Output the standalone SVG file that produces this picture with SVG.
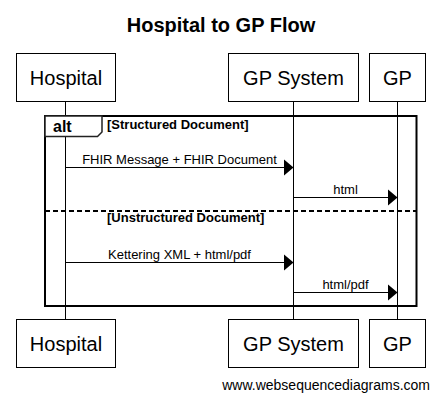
<svg xmlns="http://www.w3.org/2000/svg" width="441" height="402" viewBox="0 0 441 402">
<style>
.bg{fill:#fff}
.box{fill:#fff;stroke:#000;stroke-width:1}
.pt{font-family:"Liberation Sans",Arial,sans-serif;font-size:20px;fill:#000;text-anchor:middle}
.life{stroke:#000;stroke-width:1;fill:none}
.msg{stroke:#000;stroke-width:1;fill:none}
.head{fill:#000}
.ml{font-family:"Liberation Sans",Arial,sans-serif;font-size:13px;fill:#000;text-anchor:middle}
.frame{fill:none;stroke:#000;stroke-width:2}
.sep{fill:none;stroke:#000;stroke-width:2;stroke-dasharray:5,3}
.tab{fill:#fff;stroke:#222;stroke-width:1.5}
.cond{font-family:"Liberation Sans",Arial,sans-serif;font-size:13px;font-weight:bold;fill:#000}
.kw{font-family:"Liberation Sans",Arial,sans-serif;font-size:16px;font-weight:bold;fill:#000}
</style>
<rect class="bg" x="0" y="0" width="441" height="402"/>
<text x="221" y="32" font-family="'Liberation Sans',Arial,sans-serif" font-size="20" font-weight="bold" text-anchor="middle">Hospital to GP Flow</text>
<g id="lifelines">
<line class="life" x1="65.5" y1="101" x2="65.5" y2="320"/>
<line class="life" x1="293.5" y1="101" x2="293.5" y2="320"/>
<line class="life" x1="397.5" y1="101" x2="397.5" y2="320"/>
</g>
<g id="alt-frame">
<rect class="frame" x="45" y="116" width="371.5" height="190"/>
<line class="sep" x1="45" y1="211" x2="416.5" y2="211"/>
<polygon class="tab" points="45,116 102,116 102,132 97.5,136.5 45,136.5"/>
<text class="kw" x="53" y="132">alt</text>
<text class="cond" x="107" y="129">[Structured Document]</text>
<text class="cond" x="107" y="222">[Unstructured Document]</text>
</g>
<g id="connectors">
<line class="msg" x1="65.5" y1="167.5" x2="285" y2="167.5"/>
<polygon class="head" points="284,159.5 293.5,167.5 284,175.5"/>
<text class="ml" x="179.5" y="163.5">FHIR Message + FHIR Document</text>
<line class="msg" x1="293.5" y1="197.5" x2="389" y2="197.5"/>
<polygon class="head" points="388,189.5 397.5,197.5 388,205.5"/>
<text class="ml" x="345.5" y="193.5">html</text>
<line class="msg" x1="65.5" y1="262.5" x2="285" y2="262.5"/>
<polygon class="head" points="284,254.5 293.5,262.5 284,270.5"/>
<text class="ml" x="179.5" y="258.5">Kettering XML + html/pdf</text>
<line class="msg" x1="293.5" y1="292.5" x2="389" y2="292.5"/>
<polygon class="head" points="388,284.5 397.5,292.5 388,300.5"/>
<text class="ml" x="345.5" y="288.5">html/pdf</text>
</g>
<g id="hospital-top"><rect class="box" x="16.5" y="53.5" width="99" height="48"/><text class="pt" x="66" y="85">Hospital</text></g>
<g id="gpsystem-top"><rect class="box" x="228.5" y="53.5" width="130" height="48"/><text class="pt" x="293.5" y="85">GP System</text></g>
<g id="gp-top"><rect class="box" x="369.5" y="53.5" width="56" height="48"/><text class="pt" x="397.5" y="85">GP</text></g>
<g id="hospital-bottom"><rect class="box" x="16.5" y="319.5" width="99" height="48"/><text class="pt" x="66" y="351">Hospital</text></g>
<g id="gpsystem-bottom"><rect class="box" x="228.5" y="319.5" width="130" height="48"/><text class="pt" x="293.5" y="351">GP System</text></g>
<g id="gp-bottom"><rect class="box" x="369.5" y="319.5" width="56" height="48"/><text class="pt" x="397.5" y="351">GP</text></g>
<text x="430" y="390" font-family="'Liberation Sans',Arial,sans-serif" font-size="14" text-anchor="end">www.websequencediagrams.com</text>
</svg>
